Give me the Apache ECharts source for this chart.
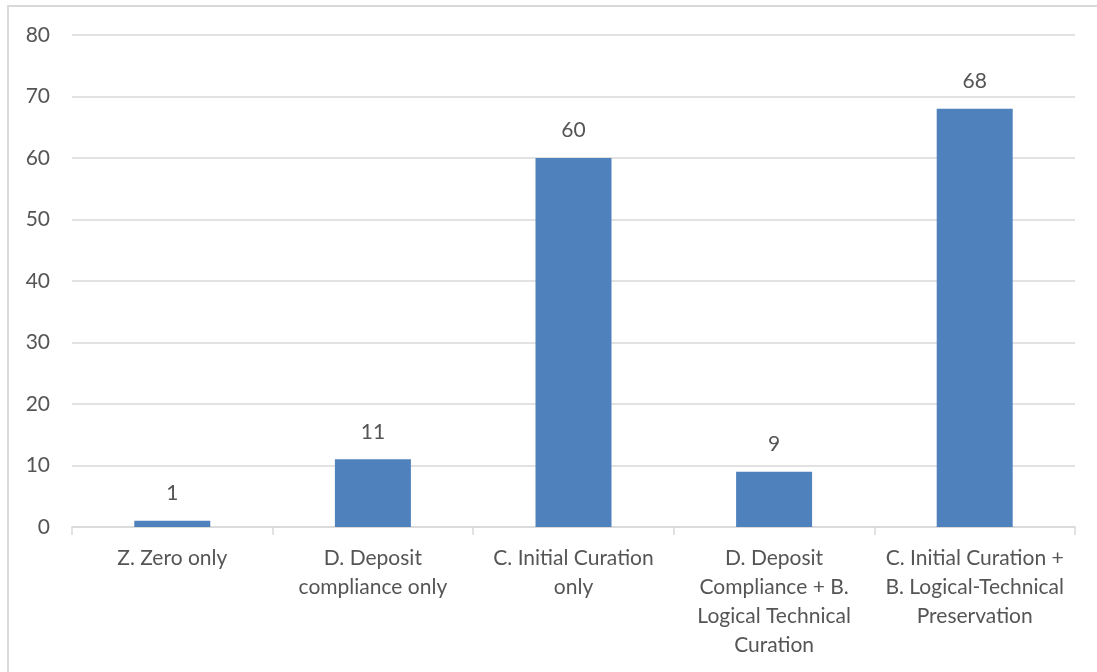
<!DOCTYPE html>
<html>
<head>
<meta charset="utf-8">
<script src="https://cdn.jsdelivr.net/npm/echarts@6/dist/echarts.min.js"></script>
<style>
  html, body { margin: 0; padding: 0; background: #fff; }
  #frame { position: absolute; left: 7px; top: 5px; width: 1100px; height: 680px; border: 2px solid #d9d9d9; box-sizing: border-box; }
  #chart { position: absolute; left: 0; top: 0; width: 1097px; height: 672px; }
</style>
</head>
<body>
<div id="frame"></div>
<div id="chart"></div>
<script>
// Categories (line breaks as they wrap under the axis)
const categories = [
  'Z. Zero only',
  'D. Deposit\ncompliance only',
  'C. Initial Curation\nonly',
  'D. Deposit\nCompliance + B.\nLogical Technical\nCuration',
  'C. Initial Curation +\nB. Logical-Technical\nPreservation'
];
const values = [1, 11, 60, 9, 68];
const yTicks = [0, 10, 20, 30, 40, 50, 60, 70, 80];

const textColor = '#555555';
const gridColor = '#d9d9d9';
const fontFamily = 'Lato, "Open Sans", sans-serif';

const chart = echarts.init(document.getElementById('chart'), null, { renderer: 'canvas' });
chart.setOption({
  animation: false,
  grid: { left: 72, right: 22, top: 35, bottom: 145 },
  xAxis: {
    type: 'category',
    data: categories,
    axisLine: { lineStyle: { color: gridColor, width: 1.5 } },
    axisTick: { show: true, length: 8, alignWithLabel: false, lineStyle: { color: gridColor, width: 1.5 } },
    axisLabel: { color: textColor, fontSize: 21, fontFamily, lineHeight: 29, margin: 17, interval: 0 }
  },
  yAxis: {
    type: 'value',
    min: yTicks[0],
    max: yTicks[yTicks.length - 1],
    interval: yTicks[1] - yTicks[0],
    axisLine: { show: false },
    axisTick: { show: false },
    splitLine: { lineStyle: { color: gridColor, width: 1.5 } },
    axisLabel: { color: textColor, fontSize: 21, fontFamily, margin: 22 }
  },
  series: [{
    type: 'bar',
    data: values,
    barWidth: 76,
    itemStyle: { color: '#4f81bd' },
    label: { show: true, position: 'top', distance: 17, color: textColor, fontSize: 21, fontFamily }
  }]
});
</script>
</body>
</html>
